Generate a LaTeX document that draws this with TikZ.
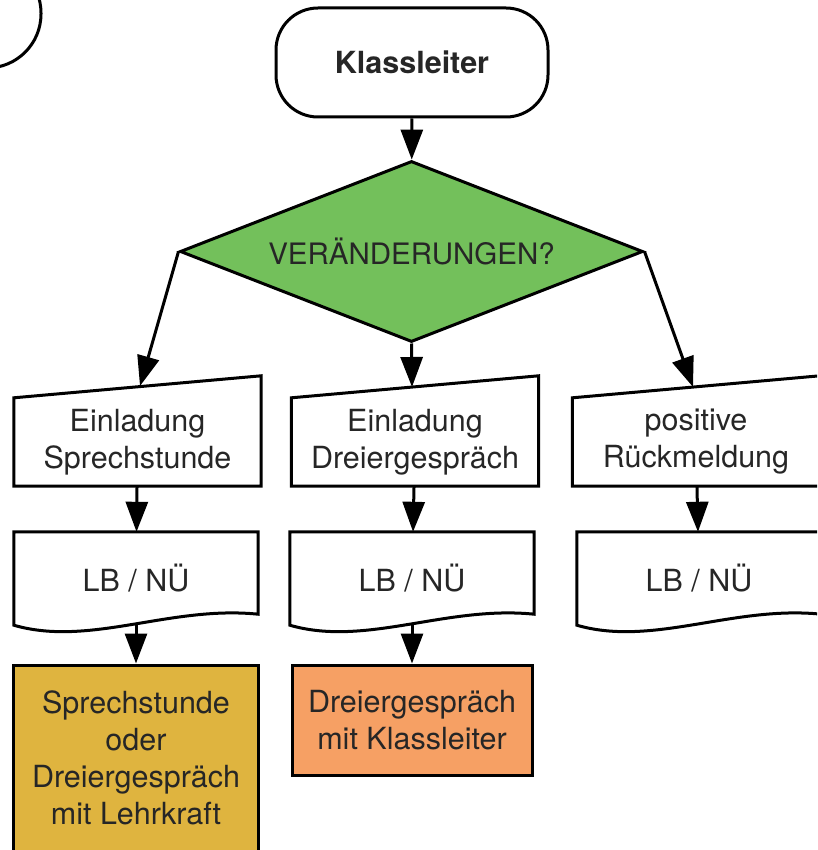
\documentclass[tikz,border=0pt]{standalone}
\usepackage{fontspec}
\setmainfont{TeX Gyre Heros}
\usetikzlibrary{shapes}
\usetikzlibrary{calc}
\usetikzlibrary{arrows.meta}
\definecolor{dgreen}{HTML}{73C05B}
\definecolor{dyellow}{HTML}{DFB43F}
\definecolor{dorange}{HTML}{F6A064}
\definecolor{txtgray}{HTML}{262626}
\tikzset{
    outline/.style = {line width=3pt, draw=black, line join=miter},
    term/.style = {rectangle, rounded corners=42pt, outline, minimum width=272pt, minimum height=109pt, font=\bfseries\fontsize{30.5}{37}\selectfont},
    decide/.style = {diamond, outline, fill=dgreen, aspect=2.5, inner sep=0pt, minimum width=463pt, minimum height=181pt},
    manual/.style = {rectangle, align=center, minimum width=247pt, minimum height=88pt},
    docu/.style = {rectangle, align=center, minimum width=244pt, minimum height=93pt},
    proc/.style = {rectangle, outline, align=center},
    edgen/.style = {-{Triangle[length=30pt,width=22pt]}, line width=3pt}, % flow
}

\begin{document}
\begin{tikzpicture}[x=1pt, y=-1pt, text=txtgray, font=\fontsize{30.5}{37}\selectfont]
  \useasboundingbox (0,0) rectangle (817,850);
  \clip (0,0) rectangle (817,850);

  \node[term, rounded corners=54pt] (k0) at (-95,13.5) {};
  \node[term] (k) at (412,62.5) {Klassleiter};
  \node[decide, font=\fontsize{29.5}{37}\selectfont] (dia) at (411.5,251.5) {VERÄNDERUNGEN?};

  \node[manual] (m1) at (137.5,442) {Einladung\\Sprechstunde};
  \node[manual] (m2) at (415,442) {Einladung\\Dreiergespräch};
  \node[manual] (m3) at (696,442) {positive\\Rückmeldung};

  \node[docu] (d1) at (136,578.5) {LB / NÜ};
  \node[docu] (d2) at (412,578.5) {LB / NÜ};
  \node[docu] (d3) at (699,578.5) {LB / NÜ};

  \node[proc, fill=dyellow, minimum width=245pt, minimum height=186pt] (p1) at (136,758) {Sprechstunde\\oder\\Dreiergespräch\\mit Lehrkraft};
  \node[proc, fill=dorange, minimum width=240pt, minimum height=110pt] (p2) at (412,720) {Dreiergespräch\\mit Klassleiter};

  % slanted tops and wavy bottoms
  \foreach \n in {m1,m2,m3}
    \draw[outline] (\n.south west) -- (\n.north west) -- ($(\n.north east)+(0,-22)$) -- (\n.south east) -- cycle;
  \foreach \n in {d1,d2,d3}
    \draw[outline] (\n.south west) -- (\n.north west) -- (\n.north east) -- ($(\n.south east)+(0,-11)$)
      .. controls ($(\n.south west)+(156,-20)$) and ($(\n.south west)+(76,22)$) .. (\n.south west) -- cycle;

  \coordinate (t1) at (140,386);
  \coordinate (t2) at (412,387);
  \coordinate (t3) at (693,387);

  \draw[edgen] (k) -- (dia);
  \draw[edgen] (dia.west) -- (t1);
  \draw[edgen] (dia.south) -- (t2);
  \draw[edgen] (dia.east) -- (t3);
  \draw[edgen] (m1) -- (d1);
  \draw[edgen] (m2) -- (d2);
  \draw[edgen] (m3) -- (d3);
  \draw[edgen] (d1.south) -- (p1);
  \draw[edgen] (d2.south) -- (p2);
\end{tikzpicture}
\end{document}
